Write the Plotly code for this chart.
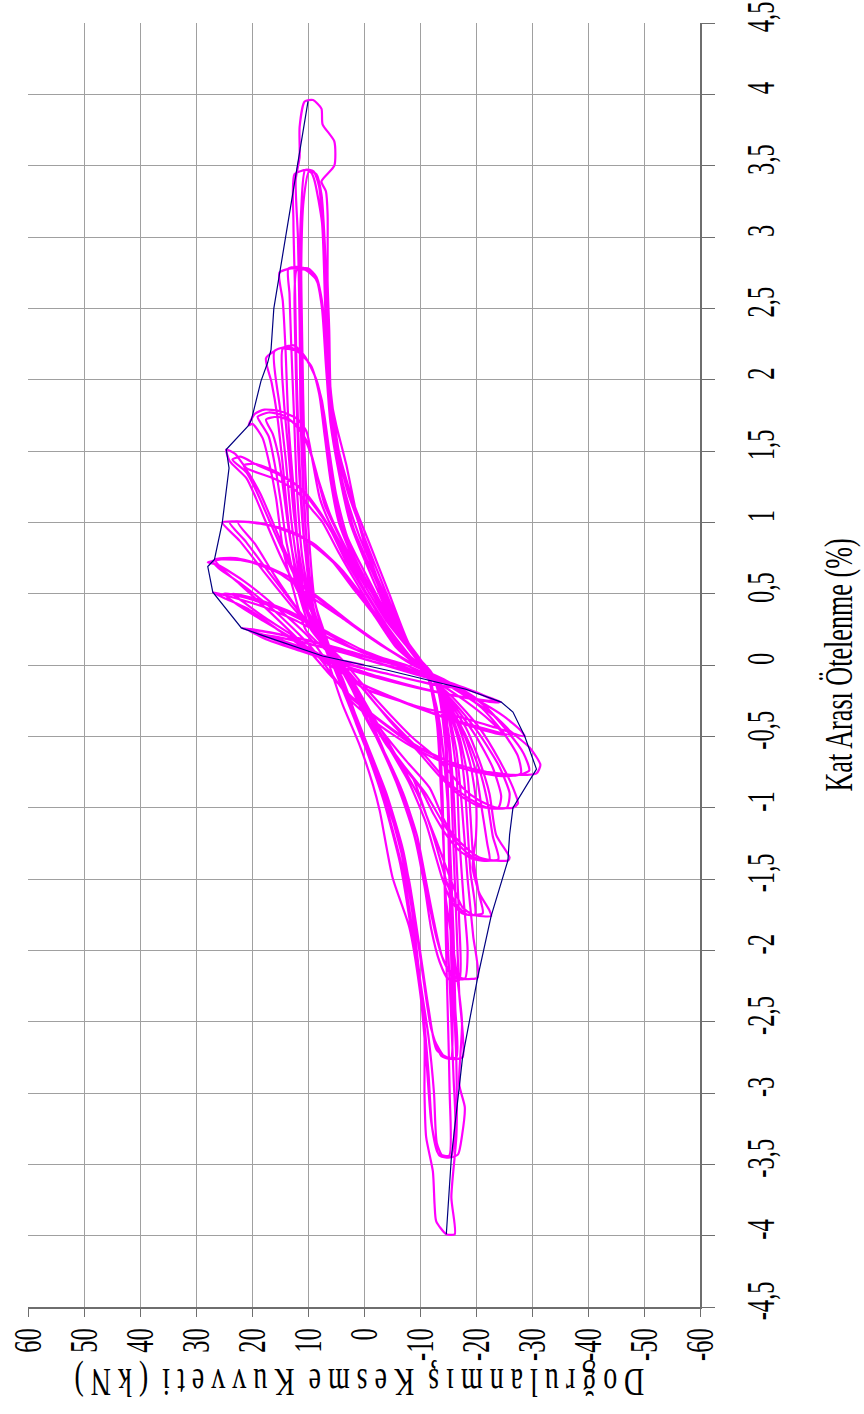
import plotly.graph_objects as go

# Axis ticks: horizontal axis = corrected shear force (kN, reversed), vertical = interstorey drift (%)
force_ticks = [60, 50, 40, 30, 20, 10, 0, -10, -20, -30, -40, -50, -60]
force_tick_text = ["60", "50", "40", "30", "20", "10", "0", "-10", "-20", "-30", "-40", "-50", "-60"]
drift_ticks = [4.5, 4, 3.5, 3, 2.5, 2, 1.5, 1, 0.5, 0, -0.5, -1, -1.5, -2, -2.5, -3, -3.5, -4, -4.5]
drift_tick_text = ["4,5", "4", "3,5", "3", "2,5", "2", "1,5", "1", "0,5", "0", "-0,5", "-1",
                   "-1,5", "-2", "-2,5", "-3", "-3,5", "-4", "-4,5"]

# Hysteresis record, (force kN, drift %) per drift level
lvl_021 = [
    (0.0, 0.0), (7.4, 0.063), (13.0, 0.135), (18.7, 0.215),
    (13.5, 0.18), (6.0, 0.11), (-1.0, 0.03), (-7.0, -0.04), (-13.0, -0.11), (-18.2, -0.17),
    (-12.5, -0.135), (-5.0, -0.07), (2.0, 0.0), (9.0, 0.09), (14.5, 0.16), (17.8, 0.205),
    (12.5, 0.175), (5.0, 0.1), (-2.0, 0.02), (-8.5, -0.05), (-13.5, -0.115), (-17.3, -0.165),
    (-11.5, -0.13), (-4.5, -0.065), (2.5, 0.0),
]
lvl_026 = [
    (9.5, 0.1), (16.0, 0.19), (21.9, 0.26),
    (16.5, 0.225), (9.0, 0.16), (1.5, 0.075), (-5.5, 0.0), (-12.5, -0.09), (-19.0, -0.18), (-24.5, -0.26),
    (-18.5, -0.23), (-10.5, -0.165), (-2.5, -0.08), (4.5, 0.01), (11.5, 0.1), (17.5, 0.18), (21.0, 0.255),
    (15.0, 0.215), (7.0, 0.145), (-0.5, 0.06), (-7.0, -0.015), (-14.0, -0.105), (-20.0, -0.19), (-24.0, -0.265),
    (-17.5, -0.225), (-9.5, -0.16), (-1.5, -0.08), (5.0, 0.0),
]
lvl_050 = [
    (9.2, 0.08), (15.1, 0.24), (21.0, 0.4), (25.0, 0.47), (27.0, 0.51),
    (24.0, 0.48), (18.1, 0.41), (12.1, 0.31), (6.2, 0.19), (0.2, 0.09), (-7.5, 0.0), (-14.0, -0.12),
    (-20.0, -0.24), (-25.0, -0.36), (-28.0, -0.46), (-28.7, -0.5),
    (-23.6, -0.44), (-17.6, -0.37), (-8.7, -0.28), (0.2, -0.16), (6.2, 0.03),
    (12.0, 0.17), (18.0, 0.31), (22.5, 0.42), (25.0, 0.5),
    (21.0, 0.47), (15.0, 0.39), (8.0, 0.25), (1.0, 0.1), (-6.0, 0.0), (-13.0, -0.1), (-19.0, -0.24),
    (-24.0, -0.38), (-26.5, -0.49),
    (-21.0, -0.44), (-14.0, -0.36), (-6.0, -0.24), (1.0, -0.12), (7.0, 0.02),
    (12.5, 0.2), (18.0, 0.34), (21.5, 0.44), (23.5, 0.5),
    (19.0, 0.46), (13.0, 0.37), (6.0, 0.22), (0.0, 0.1), (-6.5, 0.0), (-12.5, -0.11), (-18.0, -0.25),
    (-22.5, -0.39), (-25.0, -0.49),
    (-20.0, -0.44), (-13.0, -0.35), (-5.0, -0.23), (2.0, -0.1), (6.0, 0.0),
]
lvl_075 = [
    (9.5, 0.18), (15.5, 0.4), (21.5, 0.59), (26.0, 0.7), (27.9, 0.72),
    (25.5, 0.74), (21.0, 0.73), (15.0, 0.64), (9.2, 0.47), (3.2, 0.31), (-2.8, 0.15), (-8.7, 0.0),
    (-14.7, -0.11), (-20.6, -0.25), (-25.4, -0.44), (-29.6, -0.58), (-31.5, -0.7), (-30.8, -0.76),
    (-26.6, -0.77), (-20.6, -0.74), (-14.7, -0.67), (-8.7, -0.56), (-2.8, -0.39), (3.2, -0.2), (6.2, -0.04),
    (10.0, 0.15), (16.0, 0.38), (22.0, 0.57), (26.0, 0.68), (27.0, 0.73),
    (24.0, 0.745), (19.0, 0.71), (13.5, 0.62), (8.0, 0.46), (2.5, 0.29), (-3.0, 0.14), (-9.0, 0.0),
    (-15.0, -0.12), (-21.0, -0.27), (-25.5, -0.46), (-28.5, -0.62), (-29.5, -0.74),
    (-27.0, -0.775), (-22.0, -0.75), (-16.0, -0.69), (-10.0, -0.58), (-4.0, -0.42), (2.0, -0.23), (6.5, -0.05),
    (10.5, 0.13), (16.5, 0.36), (22.0, 0.56), (25.5, 0.68), (26.6, 0.74),
    (23.0, 0.75), (18.0, 0.7), (12.5, 0.6), (7.0, 0.44), (1.5, 0.27), (-4.0, 0.12), (-9.5, -0.01),
    (-15.5, -0.14), (-21.0, -0.3), (-25.0, -0.48), (-27.5, -0.64), (-28.0, -0.76),
    (-25.0, -0.78), (-20.0, -0.75), (-14.0, -0.68), (-8.0, -0.56), (-2.0, -0.4), (3.5, -0.2), (5.0, 0.0),
]
lvl_100 = [
    (9.2, 0.24), (13.3, 0.43), (18.0, 0.66), (22.2, 0.87), (25.3, 1.0),
    (22.0, 1.005), (18.0, 0.99), (12.0, 0.92), (6.2, 0.75), (2.0, 0.54), (-1.6, 0.36), (-5.8, 0.12),
    (-9.9, -0.02), (-15.9, -0.23), (-20.6, -0.44), (-24.2, -0.67), (-26.6, -0.86), (-27.5, -0.97), (-26.6, -1.0),
    (-23.6, -1.0), (-20.6, -0.95), (-17.6, -0.86), (-13.5, -0.67), (-8.7, -0.51), (-4.0, -0.32), (0.8, -0.11), (3.5, 0.02),
    (8.5, 0.22), (12.5, 0.42), (17.0, 0.65), (21.0, 0.86), (24.0, 1.0),
    (20.0, 1.0), (16.0, 0.97), (10.5, 0.88), (5.0, 0.7), (1.0, 0.5), (-2.5, 0.32), (-6.5, 0.1),
    (-10.5, -0.04), (-16.0, -0.26), (-20.5, -0.48), (-24.0, -0.7), (-26.0, -0.9), (-25.5, -1.0),
    (-22.0, -1.0), (-18.5, -0.93), (-15.0, -0.82), (-11.0, -0.64), (-6.5, -0.46), (-2.0, -0.27), (2.5, -0.06), (4.5, 0.03),
    (8.0, 0.2), (12.0, 0.4), (16.0, 0.63), (19.5, 0.85), (22.5, 1.0),
    (18.5, 0.99), (14.0, 0.95), (9.0, 0.85), (4.0, 0.67), (0.0, 0.47), (-3.5, 0.28), (-7.0, 0.08),
    (-11.0, -0.05), (-16.0, -0.28), (-20.0, -0.5), (-23.0, -0.72), (-24.5, -0.92), (-24.0, -1.0),
    (-20.5, -0.99), (-17.0, -0.91), (-13.5, -0.78), (-9.5, -0.6), (-5.0, -0.41), (-1.0, -0.22), (3.0, -0.04), (4.5, 0.0),
]
lvl_150 = [
    (9.1, 0.31), (12.1, 0.54), (15.1, 0.78), (17.5, 1.0), (19.3, 1.17), (21.0, 1.31), (24.0, 1.43), (24.6, 1.51),
    (23.0, 1.48), (21.0, 1.38), (16.3, 1.31), (12.1, 1.22), (9.1, 1.08), (7.4, 1.0), (4.4, 0.78), (0.8, 0.54),
    (-2.8, 0.31), (-7.5, 0.08), (-11.1, -0.03), (-13.5, -0.16), (-18.2, -0.44), (-20.6, -0.67), (-22.4, -0.9),
    (-23.6, -1.19), (-26.0, -1.35), (-25.7, -1.37),
    (-23.0, -1.37), (-20.6, -1.35), (-18.2, -1.28), (-15.9, -1.19), (-14.1, -1.07), (-11.7, -0.86), (-7.5, -0.67),
    (-2.8, -0.44), (0.8, -0.2), (4.4, 0.0),
    (8.5, 0.3), (11.5, 0.55), (14.5, 0.8), (17.0, 1.02), (19.0, 1.2), (21.0, 1.35), (23.5, 1.44),
    (22.0, 1.46), (19.0, 1.4), (15.0, 1.33), (11.0, 1.23), (8.0, 1.08), (6.0, 0.95), (3.5, 0.75), (0.0, 0.52),
    (-3.5, 0.3), (-8.0, 0.07), (-11.5, -0.05), (-14.0, -0.2), (-18.0, -0.48), (-20.5, -0.72), (-22.0, -0.95),
    (-23.0, -1.2), (-24.0, -1.36),
    (-21.0, -1.37), (-18.5, -1.32), (-16.0, -1.22), (-14.0, -1.1), (-11.0, -0.9), (-7.0, -0.7), (-2.5, -0.46),
    (1.5, -0.2), (4.8, 0.02),
    (8.0, 0.28), (11.0, 0.53), (14.0, 0.79), (16.5, 1.02), (18.5, 1.2), (20.5, 1.34), (21.5, 1.4),
    (19.5, 1.41), (16.0, 1.36), (12.0, 1.26), (9.0, 1.12), (6.5, 0.98), (3.0, 0.74), (-0.5, 0.5), (-4.0, 0.28),
    (-8.5, 0.05), (-12.0, -0.07), (-14.5, -0.22), (-18.0, -0.5), (-20.0, -0.75), (-21.0, -1.0), (-22.0, -1.25),
    (-22.4, -1.37),
    (-19.5, -1.36), (-17.0, -1.3), (-14.5, -1.18), (-12.5, -1.05), (-10.0, -0.86), (-6.0, -0.66), (-2.0, -0.43),
    (2.0, -0.18), (4.0, 0.0),
]
lvl_175 = [
    (10.3, 0.24), (12.7, 0.54), (14.5, 0.82), (15.7, 1.17), (16.9, 1.41), (18.1, 1.59), (19.9, 1.69), (20.6, 1.68),
    (19.5, 1.76), (17.8, 1.79), (15.1, 1.78), (12.1, 1.73), (10.3, 1.64), (9.1, 1.41), (7.9, 1.17), (6.2, 1.0),
    (3.2, 0.78), (-0.4, 0.54), (-4.0, 0.31), (-8.7, 0.08), (-11.0, -0.03), (-13.5, -0.16), (-17.0, -0.44),
    (-19.0, -0.7), (-20.0, -0.95), (-20.0, -1.2), (-19.4, -1.42), (-20.6, -1.6), (-22.4, -1.72), (-22.7, -1.76),
    (-19.4, -1.75), (-17.6, -1.7), (-16.5, -1.61), (-14.7, -1.42), (-12.9, -1.23), (-11.1, -1.05), (-8.7, -0.79),
    (-4.0, -0.56), (0.2, -0.28), (3.8, -0.02),
    (9.5, 0.25), (12.0, 0.55), (13.8, 0.85), (15.0, 1.18), (16.0, 1.42), (17.0, 1.6), (18.5, 1.7), (19.0, 1.74),
    (17.0, 1.77), (14.5, 1.75), (12.0, 1.68), (10.0, 1.55), (8.5, 1.35), (7.0, 1.12), (5.0, 0.95), (2.0, 0.72),
    (-1.5, 0.5), (-5.0, 0.28), (-9.0, 0.06), (-11.5, -0.05), (-14.0, -0.2), (-17.0, -0.5), (-18.5, -0.78),
    (-19.0, -1.05), (-19.5, -1.35), (-20.5, -1.6), (-21.2, -1.74),
    (-18.5, -1.75), (-16.5, -1.68), (-15.0, -1.55), (-13.5, -1.35), (-12.0, -1.15), (-9.5, -0.9), (-5.5, -0.62),
    (-1.5, -0.35), (2.5, -0.08), (4.2, 0.02),
    (9.0, 0.27), (11.5, 0.57), (13.2, 0.88), (14.3, 1.2), (15.2, 1.45), (16.3, 1.62), (17.5, 1.72),
    (15.5, 1.74), (13.0, 1.71), (11.0, 1.62), (9.5, 1.48), (8.0, 1.28), (6.0, 1.05), (4.0, 0.88), (1.0, 0.66),
    (-2.5, 0.45), (-6.0, 0.24), (-9.5, 0.04), (-12.0, -0.07), (-14.5, -0.25), (-17.0, -0.55), (-18.0, -0.85),
    (-18.5, -1.15), (-19.0, -1.45), (-19.8, -1.75),
    (-17.5, -1.74), (-15.5, -1.65), (-14.0, -1.5), (-12.5, -1.3), (-11.0, -1.1), (-8.0, -0.82), (-4.0, -0.55),
    (0.0, -0.28), (4.0, 0.0),
]
lvl_220 = [
    (9.5, 0.3), (12.0, 0.6), (13.5, 1.0), (14.5, 1.4), (15.5, 1.75), (16.5, 1.98), (17.5, 2.15),
    (15.0, 2.22), (12.0, 2.2), (9.5, 2.1), (8.0, 1.9), (7.0, 1.6), (6.0, 1.3), (4.5, 1.0), (2.0, 0.75),
    (-1.5, 0.5), (-5.0, 0.27), (-9.5, 0.06), (-12.0, -0.05), (-14.5, -0.25), (-16.5, -0.6), (-17.5, -1.0),
    (-18.5, -1.5), (-19.5, -1.9), (-20.3, -2.19),
    (-18.0, -2.2), (-15.8, -2.17), (-14.0, -2.05), (-12.5, -1.8), (-11.0, -1.5), (-9.5, -1.2), (-7.0, -0.9),
    (-3.5, -0.6), (0.0, -0.35), (3.0, -0.1), (5.0, 0.02),
    (9.5, 0.32), (11.5, 0.62), (13.0, 1.02), (14.0, 1.45), (15.0, 1.8), (16.0, 2.2),
    (13.5, 2.23), (11.0, 2.18), (9.0, 2.05), (7.5, 1.85), (6.5, 1.55), (5.5, 1.25), (3.8, 0.95), (1.0, 0.7),
    (-2.5, 0.45), (-6.0, 0.22), (-10.0, 0.03), (-12.5, -0.1), (-15.0, -0.35), (-16.5, -0.75), (-17.0, -1.2),
    (-17.8, -1.65), (-18.5, -2.0), (-18.0, -2.2),
    (-16.0, -2.19), (-14.5, -2.1), (-13.0, -1.92), (-11.5, -1.65), (-10.0, -1.35), (-8.0, -1.05), (-5.0, -0.75),
    (-1.5, -0.45), (2.0, -0.18), (4.5, 0.0),
    (9.0, 0.33), (11.0, 0.65), (12.5, 1.05), (13.5, 1.5), (14.3, 1.85), (14.5, 2.22),
    (12.5, 2.24), (10.5, 2.16), (8.5, 2.0), (7.2, 1.78), (6.2, 1.5), (5.0, 1.2), (3.0, 0.9), (0.0, 0.66),
    (-3.5, 0.4), (-7.0, 0.18), (-10.5, 0.0), (-13.0, -0.15), (-15.0, -0.45), (-16.0, -0.9), (-16.5, -1.35),
    (-17.0, -1.8), (-17.0, -2.21),
    (-15.0, -2.2), (-13.5, -2.08), (-12.0, -1.85), (-10.8, -1.55), (-9.0, -1.2), (-6.5, -0.9), (-3.0, -0.55),
    (0.5, -0.25), (4.0, 0.0),
]
lvl_275 = [
    (9.5, 0.3), (11.5, 0.7), (12.5, 1.2), (13.5, 1.7), (14.0, 2.2), (14.5, 2.55), (15.1, 2.75),
    (13.0, 2.78), (10.5, 2.77), (8.5, 2.7), (7.5, 2.5), (6.8, 2.1), (6.0, 1.7), (4.5, 1.35), (2.5, 1.0),
    (-0.5, 0.7), (-4.5, 0.35), (-9.0, 0.08), (-12.0, -0.05), (-14.5, -0.3), (-15.5, -0.8), (-16.0, -1.3),
    (-16.5, -1.8), (-17.0, -2.3), (-17.6, -2.75),
    (-15.5, -2.76), (-13.0, -2.7), (-11.5, -2.4), (-10.0, -2.0), (-8.0, -1.5), (-5.5, -1.1), (-2.0, -0.7),
    (1.5, -0.35), (4.0, -0.08), (6.0, 0.03),
    (9.0, 0.35), (11.0, 0.75), (12.0, 1.25), (12.5, 1.75), (13.0, 2.25), (13.3, 2.6), (13.5, 2.78),
    (11.5, 2.79), (9.5, 2.76), (8.0, 2.65), (7.2, 2.4), (6.5, 2.0), (5.5, 1.6), (4.0, 1.3), (1.8, 0.95),
    (-1.5, 0.65), (-5.5, 0.3), (-9.5, 0.05), (-12.5, -0.1), (-14.5, -0.4), (-15.0, -0.9), (-15.5, -1.4),
    (-16.0, -1.9), (-16.3, -2.4), (-16.5, -2.75),
    (-14.5, -2.75), (-12.5, -2.62), (-11.0, -2.3), (-9.5, -1.9), (-7.5, -1.45), (-4.5, -1.0), (-1.0, -0.62),
    (2.5, -0.28), (5.0, 0.0),
    (8.5, 0.4), (10.5, 0.8), (11.5, 1.3), (12.0, 1.8), (12.3, 2.3), (12.4, 2.6), (12.0, 2.77),
    (10.0, 2.78), (8.5, 2.72), (7.5, 2.55), (6.8, 2.25), (6.2, 1.85), (5.0, 1.5), (3.3, 1.2), (0.8, 0.9),
    (-2.5, 0.6), (-6.5, 0.25), (-10.0, 0.02), (-13.0, -0.15), (-14.5, -0.55), (-15.0, -1.05), (-15.3, -1.6),
    (-15.6, -2.1), (-15.8, -2.5), (-15.5, -2.76),
    (-13.8, -2.74), (-12.0, -2.55), (-10.6, -2.2), (-9.0, -1.75), (-7.0, -1.3), (-4.0, -0.9), (-0.5, -0.55),
    (3.0, -0.2), (5.0, 0.0),
]
lvl_350 = [
    (9.0, 0.35), (10.5, 0.8), (11.5, 1.4), (12.0, 2.0), (12.3, 2.6), (12.6, 3.1), (12.4, 3.44),
    (10.3, 3.47), (9.4, 3.45), (8.8, 3.39), (7.5, 3.1), (7.0, 2.6), (6.5, 2.0), (5.5, 1.6), (3.5, 1.3),
    (1.0, 1.0), (-2.0, 0.65), (-6.0, 0.25), (-10.5, 0.0), (-13.0, -0.3), (-14.0, -0.9), (-14.5, -1.6),
    (-16.0, -2.0), (-17.5, -2.5), (-17.0, -2.94), (-18.0, -3.1), (-17.5, -3.3), (-16.8, -3.43), (-15.6, -3.45),
    (-14.0, -3.44), (-13.0, -3.35), (-12.5, -3.0), (-11.5, -2.6), (-10.0, -2.2), (-8.5, -1.7), (-6.0, -1.2),
    (-2.5, -0.8), (1.5, -0.4), (4.0, -0.1), (6.0, 0.05),
    (9.0, 0.4), (10.3, 0.9), (11.0, 1.5), (11.3, 2.1), (11.5, 2.7), (11.2, 3.2), (10.5, 3.47),
    (9.0, 3.46), (8.0, 3.35), (7.3, 3.0), (6.8, 2.5), (6.2, 2.0), (5.0, 1.55), (2.8, 1.2), (0.0, 0.9),
    (-3.5, 0.55), (-7.5, 0.18), (-11.0, -0.02), (-13.0, -0.4), (-14.0, -1.1), (-14.8, -1.8), (-15.5, -2.4),
    (-16.0, -2.9), (-16.3, -3.2), (-15.5, -3.45),
    (-13.5, -3.44), (-12.2, -3.25), (-11.5, -2.85), (-10.5, -2.4), (-9.0, -1.95), (-7.0, -1.45), (-4.0, -1.0),
    (-0.5, -0.6), (3.0, -0.25), (6.0, 0.05),
    (8.8, 0.45), (10.0, 1.0), (10.7, 1.6), (11.0, 2.2), (11.2, 2.8), (10.8, 3.25), (9.8, 3.46),
    (8.5, 3.44), (7.6, 3.3), (7.0, 2.95), (6.6, 2.45), (6.0, 1.95), (4.5, 1.5), (2.0, 1.15), (-1.0, 0.85),
    (-4.5, 0.5), (-8.0, 0.15), (-11.5, -0.05), (-13.5, -0.5), (-14.2, -1.2), (-14.6, -1.9), (-15.0, -2.5),
    (-15.3, -3.0), (-15.2, -3.44),
    (-13.2, -3.42), (-12.0, -3.2), (-11.2, -2.8), (-10.2, -2.35), (-8.6, -1.9), (-6.5, -1.4), (-3.5, -0.95),
    (0.0, -0.55), (3.5, -0.2), (6.0, 0.05),
]
lvl_400 = [
    (9.0, 0.4), (10.5, 1.0), (11.3, 1.7), (11.5, 2.4), (11.8, 3.0), (12.2, 3.4), (11.5, 3.56), (11.5, 3.77),
    (10.6, 3.95),
    (9.1, 3.96), (7.6, 3.9), (7.4, 3.79), (5.3, 3.67), (5.3, 3.5), (7.6, 3.39), (6.8, 3.32), (6.5, 3.16),
    (6.5, 2.69), (6.2, 2.34), (5.9, 1.87), (5.0, 1.69), (3.2, 1.41), (1.0, 1.0), (-1.6, 0.66), (-5.8, 0.24),
    (-11.0, -0.02), (-13.5, -0.4), (-15.0, -1.0), (-15.5, -1.7), (-16.0, -2.3), (-16.5, -2.8), (-16.5, -3.3),
    (-15.6, -3.73), (-16.2, -3.99),
    (-14.7, -3.99), (-12.9, -3.9), (-12.6, -3.78), (-12.3, -3.55), (-11.1, -3.31), (-10.8, -3.0), (-10.8, -2.6),
    (-9.9, -2.26), (-8.1, -1.84), (-5.1, -1.49), (-2.8, -1.02), (-1.6, -0.84), (0.8, -0.56), (3.8, -0.28),
    (6.2, 0.0),
]

# Envelope through the first-cycle peaks
env_force = [10.0, 15.1, 16.1, 16.6, 17.2, 18.4, 20.1, 20.6, 24.6, 24.1, 25.3, 26.7, 27.9, 27.0, 21.9, 18.7,
             7.4, -4.6, -18.2, -24.5, -26.6, -28.7, -30.8, -26.6, -26.0, -25.7, -22.7, -20.3, -18.8, -17.6,
             -15.6, -14.7]
env_drift = [3.95, 2.75, 2.5, 2.21, 2.12, 1.99, 1.72, 1.68, 1.51, 1.38, 1.0, 0.74, 0.69, 0.51, 0.26, 0.215,
             0.063, -0.04, -0.17, -0.26, -0.33, -0.5, -0.73, -1.0, -1.19, -1.37, -1.76, -2.19, -2.5, -2.75,
             -3.45, -3.99]

levels = [lvl_021, lvl_026, lvl_050, lvl_075, lvl_100, lvl_150, lvl_175, lvl_220, lvl_275, lvl_350, lvl_400]
loop_force = [p[0] for lvl in levels for p in lvl]
loop_drift = [p[1] for lvl in levels for p in lvl]

SERIF = "Liberation Serif, Times New Roman, serif"
GRID = "#a0a0a0"
AXIS = "#6e6e6e"

fig = go.Figure()
fig.add_trace(go.Scatter(
    x=loop_force, y=loop_drift, mode="lines",
    line=dict(color="#FF00FF", width=2.2, shape="spline", smoothing=0.6),
    hoverinfo="skip",
))
fig.add_trace(go.Scatter(
    x=env_force, y=env_drift, mode="lines",
    line=dict(color="#000080", width=1.2),
    hoverinfo="skip",
))

axis_common = dict(
    tickmode="array", tickangle=-90, showgrid=True, gridcolor=GRID, gridwidth=1.2,
    zeroline=False, showline=True, linecolor=AXIS, linewidth=1.5,
    ticks="outside", tickcolor=AXIS, tickwidth=1.2, automargin=False,
    ticklabeloverflow="allow",
    tickfont=dict(family=SERIF, size=41, color="black"),
)

fig.update_layout(
    width=864, height=1414,
    margin=dict(l=28, r=164, t=23, b=107),
    paper_bgcolor="white", plot_bgcolor="white",
    showlegend=False,
    xaxis=dict(range=[60, -60], tickvals=force_ticks, ticktext=force_tick_text, ticklen=8, **axis_common),
    yaxis=dict(range=[-4.5, 4.5], side="right", tickvals=drift_ticks, ticktext=drift_tick_text,
               ticklen=13, ticklabelstandoff=10, **axis_common),
    annotations=[
        dict(
            text="Kat Arası Ötelenme (%)", textangle=-90,
            xref="paper", yref="paper", x=1.2068, y=0.5, xanchor="center", yanchor="middle",
            showarrow=False, font=dict(family=SERIF, size=39, color="black"),
        ),
        dict(
            text="D o ğ r u l a n m ı ş  K e s m e  K u v v e t i  ( k N )",
            textangle=180,
            xref="paper", yref="paper", x=0.493, y=-0.0592, xanchor="center", yanchor="middle",
            showarrow=False, font=dict(family=SERIF, size=40, color="black"),
        ),
    ],
)

# Narrow (condensed) lettering for tick labels and axis titles.
# Each label is squeezed along its own reading direction; force-axis labels
# keep their end (next to the axis) fixed and sit a few pixels closer to it.
condense_js = """
(function () {
  var gd = document.getElementById('{plot_id}');
  function condense() {
    var items = gd.querySelectorAll('.xtick text, .ytick text, text.annotation-text');
    items.forEach(function (t) {
      var cur = t.getAttribute('transform') || '';
      if (t.__condensed === cur) return;
      var isNote = t.classList.contains('annotation-text');
      var isX = !isNote && t.parentNode && t.parentNode.classList &&
                t.parentNode.classList.contains('xtick');
      var s = 0.6;
      if (isNote) s = (t.textContent.indexOf('Kat') === 0) ? 0.67 : 0.7;
      var b = t.getBBox();
      var ax, ay = b.y + b.height / 2;
      if (isX) ax = b.x + b.width;
      else ax = b.x + b.width / 2;
      var shift = isX ? ' translate(5,0)' : '';
      var nt = cur + shift + ' translate(' + ax + ',' + ay + ') scale(' + s + ',1) translate(' +
               (-ax) + ',' + (-ay) + ')';
      t.setAttribute('transform', nt);
      t.__condensed = nt;
    });
  }
  condense();
  gd.on('plotly_afterplot', condense);
  var obs = new MutationObserver(function () { condense(); });
  obs.observe(gd, {subtree: true, childList: true, attributes: true, attributeFilter: ['transform']});
  [30, 150, 400, 1000].forEach(function (ms) { setTimeout(condense, ms); });
})();
"""

fig.write_html("out.html", post_script=condense_js)
